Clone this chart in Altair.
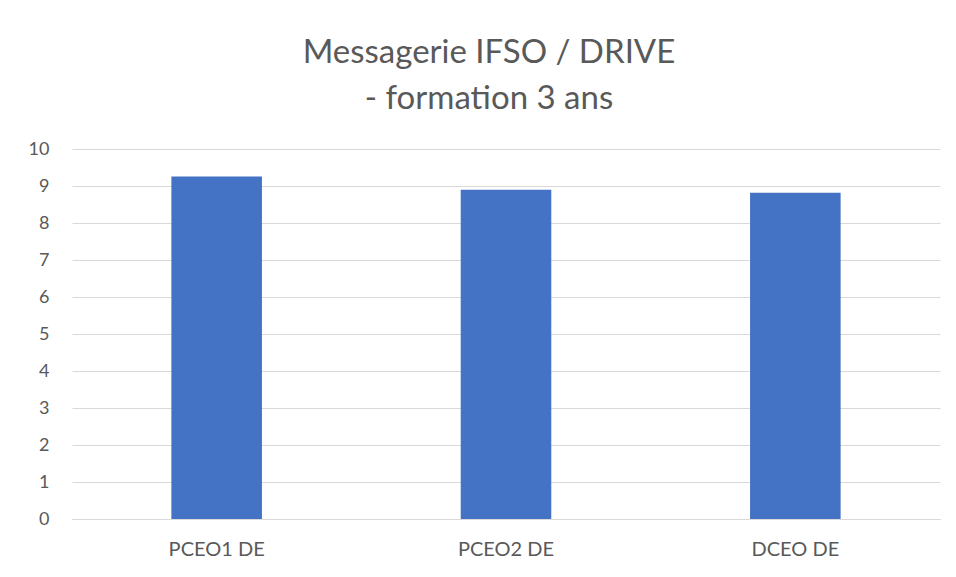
import altair as alt
import pandas as pd

categories = ["PCEO1 DE", "PCEO2 DE", "DCEO DE"]
values = [9.26, 8.90, 8.82]
y_ticks = list(range(0, 11))
title_lines = ["Messagerie IFSO / DRIVE", "- formation 3 ans"]

df = pd.DataFrame({"cat": categories, "val": values})

font = "Lato"
grey = "#595959"
line_color = "#d9d9d9"

chart = (
    alt.Chart(df)
    .mark_bar(color="#4472C4")
    .encode(
        x=alt.X(
            "cat:N",
            sort=categories,
            title=None,
            scale=alt.Scale(paddingInner=0.687, paddingOuter=0.3435),
            axis=alt.Axis(
                labelAngle=0,
                ticks=False,
                grid=False,
                domain=True,
                domainColor=line_color,
                labelFont=font,
                labelFontSize=20,
                labelColor=grey,
                labelPadding=20,
            ),
        ),
        y=alt.Y(
            "val:Q",
            title=None,
            scale=alt.Scale(domain=[0, 10], nice=False),
            axis=alt.Axis(
                values=y_ticks,
                ticks=False,
                domain=False,
                grid=True,
                gridColor=line_color,
                labelFont=font,
                labelFontSize=18,
                labelColor=grey,
                labelPadding=23,
            ),
        ),
    )
    .properties(
        width=868,
        height=370,
        padding={"left": 64, "top": 141, "right": 8, "bottom": 40},
        autosize=alt.AutoSizeParams(type="none"),
        title=alt.TitleParams(
            title_lines,
            font=font,
            fontSize=33,
            fontWeight="normal",
            color=grey,
            lineHeight=46,
            anchor="middle",
            offset=24,
            dx=-17,
        ),
    )
    .configure(background="white")
    .configure_view(strokeWidth=0, stroke="transparent")
)

chart.save("out.html", embed_options={"renderer": "svg", "actions": False})
